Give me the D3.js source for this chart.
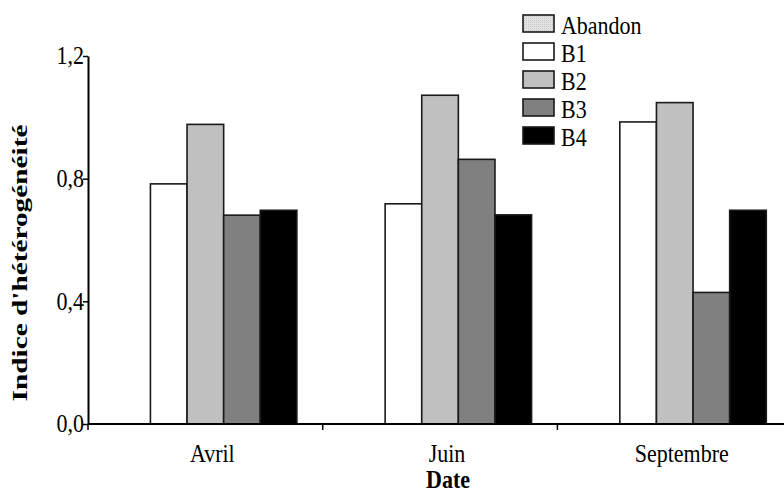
<!DOCTYPE html>
<html><head><meta charset="utf-8">
<script src="https://cdn.jsdelivr.net/npm/d3@7"></script>
<style>body{margin:0;background:#fff}svg{display:block}</style>
</head><body><svg id="c" width="784" height="495"></svg>
<script>
const categories = ["Avril", "Juin", "Septembre"];
const seriesNames = ["Abandon", "B1", "B2", "B3", "B4"];
const abandon = [0, 0, 0];
const b1 = [0.783, 0.718, 0.985];
const b2 = [0.977, 1.072, 1.048];
const b3 = [0.681, 0.863, 0.429];
const b4 = [0.697, 0.682, 0.697];
const yTicks = [0, 0.4, 0.8, 1.2];
const yTickLabels = ["0,0", "0,4", "0,8", "1,2"];
const xTitle = "Date";
const yTitle = "Indice d'hétérogénéité";

const seriesValues = [abandon, b1, b2, b3, b4];
const fills = ["url(#dots)", "#ffffff", "#c0c0c0", "#808080", "#000000"];
const FONT = "Liberation Serif";
const SY = 1.15; // vertical stretch of glyphs as in the reference

const svg = d3.select("#c");
const defs = svg.append("defs");
const pat = defs.append("pattern").attr("id","dots").attr("width",2).attr("height",2).attr("patternUnits","userSpaceOnUse");
pat.append("rect").attr("width",2).attr("height",2).attr("fill","#e4e4e4");
pat.append("rect").attr("width",1).attr("height",1).attr("fill","#c4c4c4");

function label(parent, tx, ty, str, opts) {
  opts = opts || {};
  const t = parent.append("text")
    .attr("transform", `translate(${tx},${ty}) scale(1,${SY})`)
    .attr("font-family", FONT).attr("font-size", opts.size || 22)
    .attr("fill", "#000").attr("text-anchor", opts.anchor || "start")
    .text(str);
  if (opts.bold) t.attr("font-weight", "bold");
  if (opts.dy) t.attr("dy", opts.dy);
  return t;
}

const x0 = 88, y0 = 424, yTop = 56;
const x = d3.scaleBand().domain(categories).range([x0, x0 + 3*234.7]).padding(0);
const xs = d3.scaleBand().domain(seriesNames).range([0, x.bandwidth()]).paddingInner(0).paddingOuter(0.705);
const y = d3.scaleLinear().domain([0, 1.2]).range([y0, yTop]);

// bars
categories.forEach((c, ci) => {
  const g = svg.append("g").attr("transform", `translate(${x(c)},0)`);
  seriesNames.forEach((s, si) => {
    const v = seriesValues[si][ci];
    if (v <= 0) return;
    g.append("rect")
      .attr("x", xs(s)).attr("y", y(v))
      .attr("width", xs.bandwidth()).attr("height", y0 - y(v))
      .attr("fill", fills[si]).attr("stroke", "#1a1a1a").attr("stroke-width", 1.6);
  });
});

// y axis
const yAxis = d3.axisLeft(y).tickValues(yTicks).tickFormat("").tickSize(5).tickSizeOuter(0);
const gy = svg.append("g").attr("transform", `translate(${x0},0)`).call(yAxis);
gy.select(".domain").attr("stroke","#000").attr("stroke-width",2);
gy.selectAll(".tick line").attr("stroke","#000").attr("stroke-width",1.5);
yTicks.forEach((v, i) => label(svg, x0 - 4, y(v), yTickLabels[i], {anchor: "end", dy: "0.33em"}));

// x axis
const boundaries = [x0, x(categories[1]), x(categories[2])];
svg.append("line").attr("x1",x0).attr("x2",784).attr("y1",y0).attr("y2",y0).attr("stroke","#000").attr("stroke-width",2);
svg.selectAll(".xt").data(boundaries).enter().append("line")
  .attr("x1",d=>d).attr("x2",d=>d).attr("y1",y0).attr("y2",y0+6).attr("stroke","#000").attr("stroke-width",1.5);
categories.forEach(c => label(svg, x(c) + x.bandwidth()/2 + 7, 462, c, {anchor: "middle"}));

// titles
label(svg, 448, 488, xTitle, {anchor: "middle", bold: true});
svg.append("text").attr("transform","translate(27,263) rotate(-90)").attr("text-anchor","middle")
  .attr("font-family", FONT).attr("font-size",20).attr("font-weight","bold")
  .attr("textLength",277).attr("lengthAdjust","spacingAndGlyphs").text(yTitle);

// legend
seriesNames.forEach((s, i) => {
  const yy = 15 + i*28;
  svg.append("rect").attr("x",523).attr("y",yy).attr("width",31).attr("height",17)
    .attr("fill",fills[i]).attr("stroke","#1a1a1a").attr("stroke-width",1.6);
  label(svg, 561, yy + 19, s);
});
</script></body></html>
